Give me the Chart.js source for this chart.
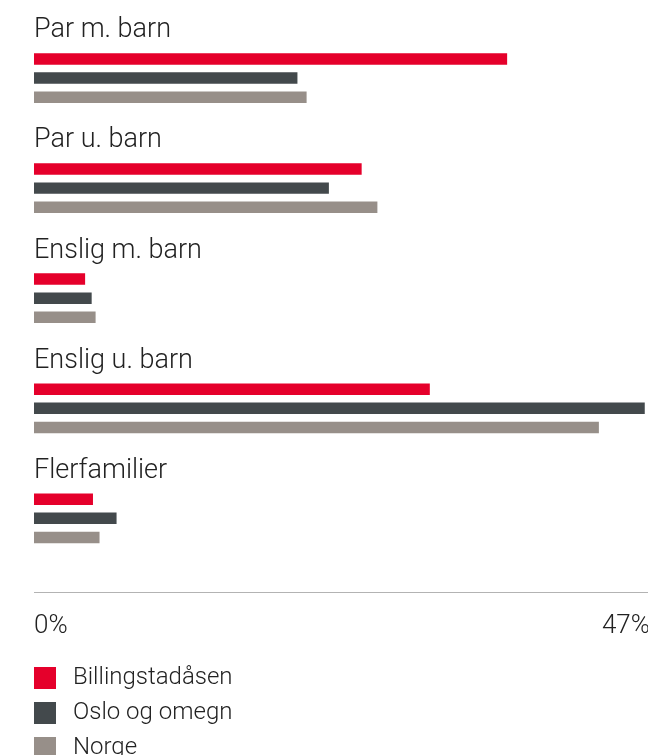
<!DOCTYPE html>
<html>
<head>
<meta charset="utf-8">
<script src="https://cdn.jsdelivr.net/npm/chart.js@4"></script>
<style>
  html, body { margin: 0; padding: 0; background: #fff; overflow: hidden; }
  #wrap { width: 648px; height: 755px; position: relative; overflow: hidden; }
  canvas { display: block; }
</style>
</head>
<body>
<div id="wrap"><canvas id="c" width="650" height="755"></canvas></div>
<script>
const categories = ["Par m. barn", "Par u. barn", "Enslig m. barn", "Enslig u. barn", "Flerfamilier"];
const seriesNames = ["Billingstadåsen", "Oslo og omegn", "Norge"];
const billingstadasen = [36.1, 25.0, 3.9, 30.2, 4.5];
const osloOgOmegn = [20.1, 22.5, 4.4, 46.6, 6.3];
const norge = [20.8, 26.2, 4.7, 43.1, 5.0];
const axisTicks = [0, 47];
const colors = ["#e5002b", "#43494c", "#978f89"];

const TEXT = "#222222";
const FONT = "Roboto, 'Open Sans', sans-serif";

const categoryLabelPlugin = {
  id: "categoryLabels",
  afterDatasetsDraw(chart) {
    const ctx = chart.ctx;
    const y = chart.scales.y;
    const area = chart.chartArea;
    ctx.save();
    ctx.fillStyle = TEXT;
    ctx.font = "300 27px " + FONT;
    ctx.textAlign = "left";
    ctx.textBaseline = "alphabetic";
    chart.data.labels.forEach((lab, i) => {
      ctx.fillText(lab, area.left, y.getPixelForValue(i) - 40.7);
    });
    ctx.restore();
  }
};

const axisLinePlugin = {
  id: "axisLine",
  afterDraw(chart) {
    const ctx = chart.ctx;
    const area = chart.chartArea;
    const yy = Math.round(area.bottom + 19) + 0.5;
    ctx.save();
    ctx.strokeStyle = "#b3b3b3";
    ctx.lineWidth = 1;
    ctx.beginPath();
    ctx.moveTo(area.left, yy);
    ctx.lineTo(chart.width, yy);
    ctx.stroke();
    ctx.restore();
  }
};

const legendPlugin = {
  id: "customLegend",
  afterDraw(chart) {
    const ctx = chart.ctx;
    const area = chart.chartArea;
    ctx.save();
    ctx.font = "300 24px " + FONT;
    ctx.textAlign = "left";
    ctx.textBaseline = "middle";
    chart.data.datasets.forEach((ds, i) => {
      const top = 667 + i * 35;
      ctx.fillStyle = ds.backgroundColor;
      ctx.fillRect(area.left, top, 22, 22);
      ctx.fillStyle = TEXT;
      ctx.fillText(ds.label, area.left + 39, top + 11);
    });
    ctx.restore();
  }
};

const datasets = [billingstadasen, osloOgOmegn, norge].map((d, i) => ({
  label: seriesNames[i],
  data: d,
  backgroundColor: colors[i],
  borderWidth: 0,
  categoryPercentage: 0.521,
  barPercentage: 0.6
}));

new Chart(document.getElementById("c"), {
  type: "bar",
  data: { labels: categories, datasets },
  options: {
    indexAxis: "y",
    responsive: false,
    animation: false,
    layout: { padding: { left: 34, top: 23, right: 0, bottom: 121.6 } },
    plugins: {
      legend: { display: false },
      tooltip: { enabled: false }
    },
    scales: {
      y: { display: false, offset: true },
      x: {
        min: 0,
        max: 47,
        grid: { display: false, drawTicks: false },
        border: { display: false },
        afterBuildTicks(scale) { scale.ticks = axisTicks.map(v => ({ value: v })); },
        afterFit(scale) {
          scale.height = 60;
          scale.paddingLeft = 0;
          scale.paddingRight = 0;
        },
        ticks: {
          align: "inner",
          padding: 37,
          color: TEXT,
          font: { family: FONT, size: 26, weight: 300 },
          maxRotation: 0,
          callback: v => v + "%"
        }
      }
    }
  },
  plugins: [categoryLabelPlugin, axisLinePlugin, legendPlugin]
});
</script>
</body>
</html>
